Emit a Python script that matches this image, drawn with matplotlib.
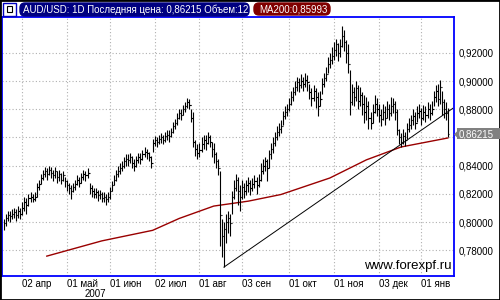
import numpy as np
import matplotlib.pyplot as plt
from matplotlib.patches import FancyBboxPatch, Rectangle, Polygon
from matplotlib.transforms import IdentityTransform

# AUD/USD daily bars, bar index = trading day (20 Mar 2007 .. 22 Jan 2008)
close = [0.799, 0.803, 0.805, 0.804, 0.806, 0.807, 0.805, 0.808, 0.806, 0.810,
         0.814, 0.812, 0.817, 0.818, 0.816, 0.818, 0.825, 0.827, 0.831, 0.834,
         0.836, 0.834, 0.837, 0.835, 0.833, 0.836, 0.832, 0.834, 0.830, 0.833,
         0.829, 0.826, 0.824, 0.822, 0.825, 0.827, 0.830, 0.828, 0.832, 0.834,
         0.833, 0.835, 0.824, 0.822, 0.820, 0.821, 0.819, 0.820, 0.817, 0.818,
         0.816, 0.818, 0.822, 0.826, 0.830, 0.834, 0.836, 0.838, 0.840, 0.843,
         0.845, 0.844, 0.846, 0.842, 0.840, 0.844, 0.846, 0.845, 0.848, 0.850,
         0.849, 0.846, 0.842, 0.856, 0.858, 0.857, 0.859, 0.860, 0.858, 0.861,
         0.862, 0.861, 0.864, 0.868, 0.870, 0.874, 0.877, 0.876, 0.880, 0.882,
         0.885, 0.883, 0.874, 0.857, 0.852, 0.849, 0.851, 0.855, 0.858, 0.856,
         0.860, 0.857, 0.852, 0.848, 0.843, 0.838, 0.805, 0.790, 0.795, 0.800,
         0.803, 0.799, 0.818, 0.824, 0.830, 0.822, 0.818, 0.825, 0.822, 0.826,
         0.828, 0.824, 0.827, 0.829, 0.826, 0.830, 0.836, 0.840, 0.843, 0.838,
         0.848, 0.852, 0.856, 0.860, 0.864, 0.866, 0.868, 0.875, 0.878, 0.880,
         0.884, 0.889, 0.892, 0.896, 0.899, 0.897, 0.900, 0.898, 0.901, 0.899,
         0.892, 0.888, 0.893, 0.889, 0.882, 0.887, 0.898, 0.902, 0.905, 0.912,
         0.915, 0.918, 0.922, 0.926, 0.920, 0.925, 0.932, 0.928, 0.920, 0.912,
         0.885, 0.892, 0.889, 0.895, 0.886, 0.890, 0.884, 0.878, 0.882, 0.874,
         0.870, 0.878, 0.884, 0.880, 0.876, 0.873, 0.878, 0.874, 0.880, 0.877,
         0.882, 0.884, 0.878, 0.865, 0.860, 0.857, 0.861, 0.858, 0.866, 0.869,
         0.872, 0.875, 0.870, 0.877, 0.879, 0.874, 0.878, 0.876, 0.880, 0.877,
         0.880, 0.889, 0.893, 0.887, 0.896, 0.885, 0.880, 0.877, 0.86215]
high = [0.802, 0.806, 0.808, 0.808, 0.809, 0.810, 0.809, 0.811, 0.810, 0.814,
        0.818, 0.817, 0.820, 0.821, 0.820, 0.821, 0.828, 0.830, 0.834, 0.837,
        0.839, 0.838, 0.840, 0.839, 0.837, 0.839, 0.836, 0.837, 0.835, 0.836,
        0.832, 0.830, 0.828, 0.826, 0.828, 0.830, 0.833, 0.832, 0.835, 0.837,
        0.836, 0.838, 0.828, 0.826, 0.824, 0.824, 0.823, 0.823, 0.821, 0.821,
        0.820, 0.821, 0.825, 0.829, 0.833, 0.837, 0.840, 0.842, 0.843, 0.846,
        0.848, 0.848, 0.849, 0.847, 0.845, 0.847, 0.849, 0.849, 0.851, 0.853,
        0.852, 0.850, 0.847, 0.859, 0.861, 0.860, 0.862, 0.863, 0.862, 0.864,
        0.865, 0.865, 0.867, 0.871, 0.873, 0.877, 0.880, 0.880, 0.883, 0.885,
        0.888, 0.887, 0.880, 0.878, 0.858, 0.855, 0.856, 0.860, 0.862, 0.862,
        0.864, 0.862, 0.857, 0.856, 0.850, 0.845, 0.836, 0.802, 0.800, 0.806,
        0.808, 0.806, 0.822, 0.830, 0.834, 0.832, 0.826, 0.830, 0.828, 0.830,
        0.832, 0.830, 0.831, 0.833, 0.832, 0.834, 0.842, 0.845, 0.846, 0.845,
        0.851, 0.856, 0.860, 0.864, 0.868, 0.870, 0.872, 0.879, 0.882, 0.884,
        0.888, 0.893, 0.896, 0.900, 0.903, 0.902, 0.905, 0.903, 0.906, 0.904,
        0.898, 0.895, 0.897, 0.895, 0.892, 0.893, 0.902, 0.906, 0.910, 0.917,
        0.920, 0.924, 0.928, 0.930, 0.927, 0.930, 0.939, 0.936, 0.929, 0.926,
        0.908, 0.898, 0.896, 0.900, 0.897, 0.896, 0.892, 0.890, 0.889, 0.886,
        0.878, 0.884, 0.890, 0.888, 0.884, 0.880, 0.884, 0.882, 0.886, 0.884,
        0.889, 0.888, 0.886, 0.880, 0.866, 0.863, 0.866, 0.864, 0.870, 0.874,
        0.876, 0.880, 0.878, 0.882, 0.884, 0.881, 0.883, 0.882, 0.885, 0.884,
        0.886, 0.893, 0.897, 0.898, 0.901, 0.893, 0.887, 0.885, 0.881]
low = [0.794, 0.797, 0.801, 0.800, 0.802, 0.803, 0.801, 0.803, 0.802, 0.805,
       0.808, 0.806, 0.811, 0.814, 0.814, 0.815, 0.818, 0.823, 0.827, 0.830,
       0.832, 0.830, 0.833, 0.831, 0.829, 0.831, 0.828, 0.829, 0.827, 0.829,
       0.825, 0.822, 0.820, 0.816, 0.821, 0.823, 0.826, 0.825, 0.828, 0.830,
       0.829, 0.831, 0.820, 0.818, 0.817, 0.817, 0.815, 0.816, 0.814, 0.814,
       0.812, 0.814, 0.816, 0.822, 0.826, 0.829, 0.832, 0.834, 0.836, 0.838,
       0.840, 0.840, 0.842, 0.838, 0.836, 0.839, 0.842, 0.841, 0.844, 0.846,
       0.845, 0.843, 0.838, 0.850, 0.854, 0.853, 0.855, 0.856, 0.855, 0.857,
       0.858, 0.857, 0.860, 0.863, 0.866, 0.869, 0.873, 0.872, 0.876, 0.878,
       0.881, 0.880, 0.871, 0.853, 0.847, 0.845, 0.846, 0.850, 0.852, 0.851,
       0.855, 0.853, 0.846, 0.842, 0.838, 0.833, 0.783, 0.775, 0.768, 0.785,
       0.792, 0.790, 0.806, 0.816, 0.822, 0.812, 0.808, 0.816, 0.817, 0.819,
       0.821, 0.819, 0.822, 0.824, 0.820, 0.825, 0.829, 0.834, 0.836, 0.829,
       0.838, 0.845, 0.849, 0.854, 0.858, 0.861, 0.863, 0.869, 0.873, 0.875,
       0.879, 0.883, 0.886, 0.890, 0.893, 0.892, 0.895, 0.893, 0.896, 0.893,
       0.887, 0.882, 0.886, 0.881, 0.875, 0.882, 0.891, 0.896, 0.900, 0.906,
       0.909, 0.912, 0.915, 0.918, 0.914, 0.917, 0.924, 0.921, 0.913, 0.906,
       0.876, 0.883, 0.882, 0.886, 0.880, 0.882, 0.876, 0.870, 0.872, 0.866,
       0.866, 0.870, 0.877, 0.875, 0.871, 0.868, 0.872, 0.869, 0.874, 0.872,
       0.875, 0.877, 0.872, 0.862, 0.855, 0.853, 0.855, 0.854, 0.859, 0.864,
       0.866, 0.869, 0.866, 0.871, 0.874, 0.869, 0.872, 0.871, 0.874, 0.872,
       0.876, 0.882, 0.885, 0.882, 0.884, 0.876, 0.874, 0.872, 0.860]

# MA200 read at a few points along the line
ma_idx = [21, 48, 73, 86, 103, 120, 136, 160, 178, 195, 218]
ma_val = [0.7758, 0.7866, 0.7941, 0.8025, 0.8113, 0.8148, 0.8195, 0.8312, 0.8441, 0.8532, 0.8596]

# trend line drawn on the chart
trend_idx = [108, 220.5]
trend_val = [0.768, 0.8807]

date_ticks = [9, 31, 52, 74, 96, 117, 140, 162, 184, 205]
date_labels = ['02 апр', '01 май', '01 июн', '02 июл', '01 авг',
               '03 сен', '01 окт', '01 ноя', '03 дек', '01 янв']
price_ticks = [0.78, 0.80, 0.82, 0.84, 0.86, 0.88, 0.90, 0.92]
last_price = 0.86215
ma_last = 0.85993
volume = 12


def fmt(v):
    return ('%.5f' % v).replace('.', ',')


plt.rcParams['font.family'] = ['Liberation Sans', 'DejaVu Sans']

W, H = 500, 300
fig = plt.figure(figsize=(5, 3), dpi=100)
ax = fig.add_axes([2 / W, 24 / H, 452 / W, 259 / H])

x = np.arange(len(close))
opn = [close[0]] + close[:-1]
ax.vlines(x, low, high, color='black', lw=0.8, zorder=3)
ax.hlines(opn[1:], x[1:] - 0.6, x[1:], color='black', lw=0.8, zorder=3)
ax.hlines(close, x, x + 0.6, color='black', lw=0.8, zorder=3)

ax.plot(ma_idx, ma_val, color='#990000', lw=1.0, zorder=2)
ax.plot(trend_idx, trend_val, color='black', lw=0.7, zorder=2)

ax.set_xlim(-1, 221)
ax.set_ylim(0.7617, 0.9454)

ax.set_xticks(date_ticks)
ax.set_xticklabels(date_labels, ha='left', fontsize=7)
ax.set_yticks(price_ticks)
# the 0,86000 label sits under the last-price marker
ax.set_yticklabels(['' if abs(v - 0.86) < 1e-9 else fmt(v) for v in price_ticks], fontsize=7)
ax.yaxis.tick_right()
ax.tick_params(length=0, pad=3)
ax.tick_params(axis='x', pad=2)
ax.grid(True, color='#b0b0b0', lw=0.8, linestyle=(0, (1, 2)))
ax.set_axisbelow(True)
for s in ax.spines.values():
    s.set_color('#0000ff')
    s.set_linewidth(1.3)

ax.text(0.995, 0.015, 'www.forexpf.ru', transform=ax.transAxes, ha='right',
        va='bottom', fontsize=9.5, color='black', zorder=5)

fig.text(95 / W, 1 - 294 / H, '2007', ha='center', va='center', fontsize=7)

# header boxes (pixel coords, origin bottom-left)
idt = IdentityTransform()
fig.patches.append(Rectangle((3, H - 16), 13, 13, fc='white', ec='#0000c0', lw=1.0, transform=idt))
fig.patches.append(Rectangle((7, H - 12), 5, 6, fc='white', ec='black', lw=0.8, transform=idt))
fig.patches.append(FancyBboxPatch((20, H - 16), 229, 13, boxstyle='round,pad=0,rounding_size=5',
                                  fc='#000080', ec='#000080', transform=idt))
fig.patches.append(FancyBboxPatch((254, H - 15), 76, 12, boxstyle='round,pad=0,rounding_size=5',
                                  fc='#800000', ec='#800000', transform=idt))
fig.text(23 / W, 1 - 9.5 / H, 'AUD/USD: 1D Последняя цена: %s Объем:%d' % (fmt(last_price), volume),
         color='white', fontsize=7, va='center', ha='left')
fig.text(259 / W, 1 - 9 / H, 'MA200:' + fmt(ma_last),
         color='white', fontsize=7, va='center', ha='left')

# last price marker on the right axis
yp = ax.transData.transform((0, last_price))[1]
fig.patches.append(Rectangle((457, yp - 5), 43, 11, fc='#808080', ec='none', transform=idt, zorder=5))
fig.patches.append(Polygon([[454, yp], [458, yp - 4], [458, yp + 4]], closed=True,
                           fc='#808080', ec='none', transform=idt, zorder=5))
fig.text(459 / W, yp / H, fmt(last_price), color='white',
         fontsize=7, va='center', ha='left', zorder=6)

# outer frame
fig.patches.append(Rectangle((0, 0), 1, 1, fill=False, ec='black', lw=2.0,
                             transform=fig.transFigure))

fig.savefig('out.png', dpi=100)
